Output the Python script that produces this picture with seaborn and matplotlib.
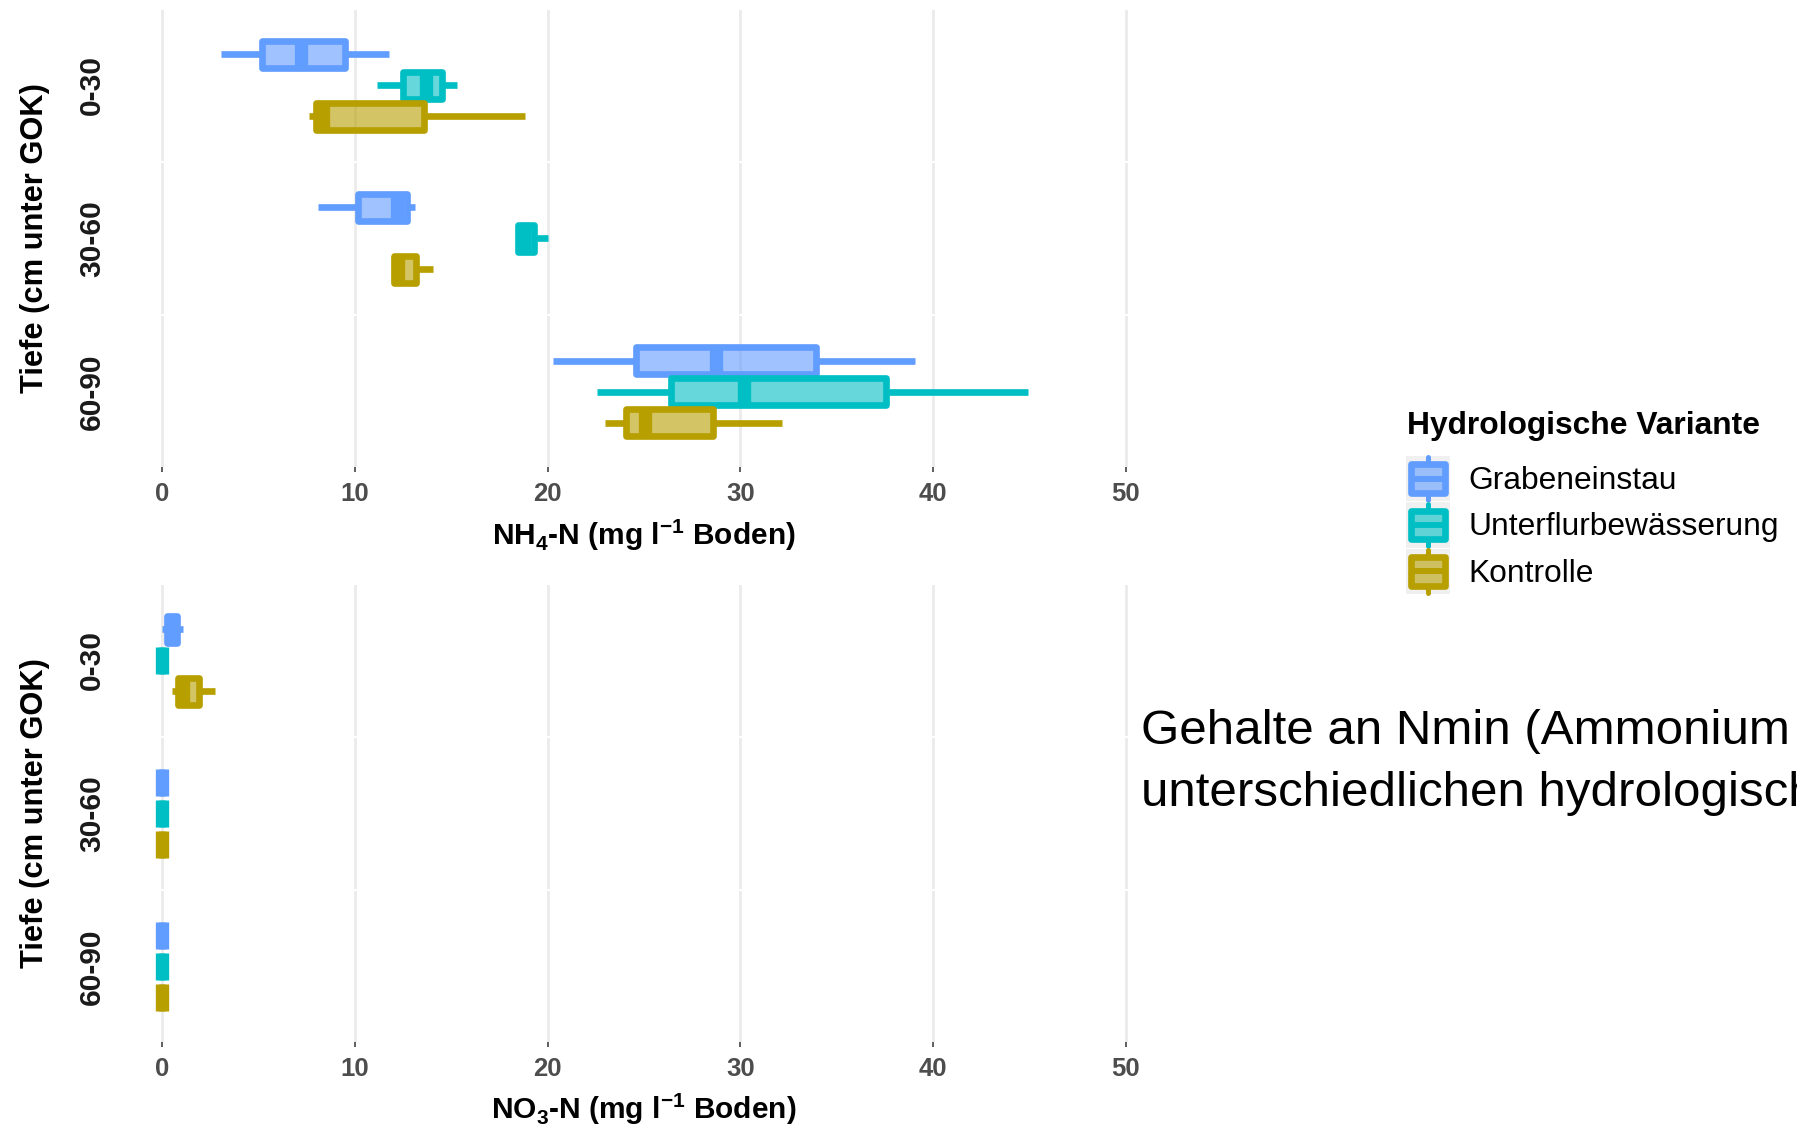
import numpy as np
import pandas as pd
import matplotlib
matplotlib.use("Agg")
import matplotlib.pyplot as plt
import seaborn as sns
from matplotlib.colors import to_rgba, to_rgb
from matplotlib.patches import Rectangle, Patch
from matplotlib.lines import Line2D
from matplotlib.legend_handler import HandlerBase

# ---------------------------------------------------------------- data
depths = ["0-30", "30-60", "60-90"]
variants = ["Grabeneinstau", "Unterflurbewässerung", "Kontrolle"]
colors = ["#619CFF", "#00BFC4", "#B79F00"]
x_ticks = [0, 10, 20, 30, 40, 50]

# five-number summaries per depth: minimum, Q1, median, Q3, maximum (mg l-1 Boden)
nh4_grabeneinstau = [[3.05, 5.16, 7.19, 9.49, 11.78],
                     [8.10, 10.14, 12.16, 12.68, 13.11],
                     [20.29, 24.57, 28.72, 33.90, 39.06]]
nh4_unterflur = [[11.16, 12.49, 13.70, 14.51, 15.29],
                 [18.44, 18.44, 18.77, 19.29, 20.03],
                 [22.54, 26.40, 30.19, 37.53, 44.94]]
nh4_kontrolle = [[7.59, 7.98, 8.36, 13.59, 18.84],
                 [12.04, 12.04, 12.25, 13.15, 14.07],
                 [22.97, 24.05, 25.06, 28.59, 32.14]]

no3_grabeneinstau = [[0.00, 0.26, 0.50, 0.75, 1.06],
                     [0.00, 0.00, 0.00, 0.00, 0.00],
                     [0.00, 0.00, 0.00, 0.00, 0.00]]
no3_unterflur = [[0.00, 0.00, 0.00, 0.00, 0.00],
                 [0.00, 0.00, 0.00, 0.00, 0.00],
                 [0.00, 0.00, 0.00, 0.00, 0.00]]
no3_kontrolle = [[0.49, 0.82, 1.09, 1.92, 2.74],
                 [0.00, 0.00, 0.00, 0.00, 0.00],
                 [0.00, 0.00, 0.00, 0.00, 0.00]]


def long_table(per_variant):
    rows = []
    for variant, summaries in zip(variants, per_variant):
        for depth, five in zip(depths, summaries):
            for v in five:
                rows.append((depth, variant, v))
    return pd.DataFrame(rows, columns=["Tiefe", "Variante", "Wert"])


nh4 = long_table([nh4_grabeneinstau, nh4_unterflur, nh4_kontrolle])
no3 = long_table([no3_grabeneinstau, no3_unterflur, no3_kontrolle])

# ---------------------------------------------------------------- style
sns.set_style("white")
plt.rcParams["font.family"] = ["Liberation Sans", "DejaVu Sans"]
plt.rcParams["text.color"] = "black"
plt.rcParams["mathtext.fontset"] = "custom"
plt.rcParams["mathtext.rm"] = "Liberation Sans"
plt.rcParams["mathtext.bf"] = "Liberation Sans:bold"

W, H = 1797, 1125
fig = plt.figure(figsize=(W / 100, H / 100), dpi=100)


def px_axes(left, top, right, bottom):
    return fig.add_axes([left / W, 1 - bottom / H, (right - left) / W, (bottom - top) / H])


palette = dict(zip(variants, colors))
BOX_LW = 4.8
MEDIAN_LW = 9.6

groups = [
    (nh4, [(9.5, 161.0), (162.7, 314.2), (315.9, 467.4)],
     r"NH$_\mathbf{4}$-N (mg l$^\mathbf{-1}$ Boden)", 545),
    (no3, [(584.5, 736.0), (737.7, 889.2), (890.9, 1042.4)],
     r"NO$_\mathbf{3}$-N (mg l$^\mathbf{-1}$ Boden)", 1119),
]

for df, facets, xlabel, label_base in groups:
    for i, depth in enumerate(depths):
        top, bottom = facets[i]
        ax = px_axes(114.1, top, 1174.0, bottom)
        for variant, color in zip(variants, colors):
            sub = df[(df["Tiefe"] == depth) & (df["Variante"] == variant)]
            n_p, n_l = len(ax.patches), len(ax.lines)
            sns.boxplot(data=sub, x="Wert", y="Tiefe", hue="Variante",
                        order=[depth], hue_order=variants, palette=palette,
                        dodge=True, width=0.614, gap=0.14, whis=(0, 100),
                        linewidth=BOX_LW, linecolor=color, showcaps=False,
                        legend=False, ax=ax)
            for p in ax.patches[n_p:]:
                p.set_facecolor(to_rgba(color, 0.6))
                p.set_edgecolor(color)
                p.set_joinstyle("round")
                p.set_linewidth(BOX_LW)
            for ln in ax.lines[n_l:]:
                xd, yd = np.asarray(ln.get_xdata()), np.asarray(ln.get_ydata())
                ln.set_color(color)
                if len(xd) == 2 and xd[0] == xd[1] and yd[0] != yd[1]:
                    ln.set_linewidth(MEDIAN_LW)
                    ln.set_solid_capstyle("butt")
        ax.set_xlim(-2.5, 52.5)
        ax.set_ylim(0.5, -0.5)
        ax.set_xticks(x_ticks)
        ax.set_yticks([])
        ax.set_xlabel("")
        ax.set_ylabel("")
        ax.grid(axis="x", color="#EBEBEB", linewidth=2.0)
        ax.grid(axis="y", visible=False)
        ax.set_axisbelow(True)
        for s in ax.spines.values():
            s.set_visible(False)
        if i == len(depths) - 1:
            ax.set_xticklabels([str(t) for t in x_ticks], fontweight="bold",
                               color="#4D4D4D", fontsize=18.5)
            ax.tick_params(axis="x", length=3.6, width=1.1, color="#333333",
                           pad=7, bottom=True)
        else:
            ax.tick_params(axis="x", length=0, labelbottom=False)
        # facet strip label on the left
        fig.text(92 / W, 1 - (top + bottom) / 2 / H, depth, rotation=90,
                 ha="center", va="center", fontsize=21.5, fontweight="bold",
                 color="#1A1A1A")
    mid = (facets[0][0] + facets[-1][1]) / 2
    fig.text(35 / W, 1 - mid / H, "Tiefe (cm unter GOK)", rotation=90,
             ha="center", va="center", fontsize=22.2, fontweight="bold",
             color="black")
    fig.text(644 / W, 1 - label_base / H, xlabel, ha="center", va="baseline",
             fontsize=21.5, fontweight="bold", color="black")


# ---------------------------------------------------------------- legend
KEY_BG = "#F0F0F0"


def blend(color, alpha, bg=KEY_BG):
    c, b = np.array(to_rgb(color)), np.array(to_rgb(bg))
    return tuple(alpha * c + (1 - alpha) * b)


class BoxKey(HandlerBase):
    def create_artists(self, legend, orig_handle, xdescent, ydescent,
                       width, height, fontsize, trans):
        dark = orig_handle.get_edgecolor()
        light = orig_handle.get_facecolor()
        x0, y0 = -xdescent, -ydescent
        cx = x0 + width / 2
        bg = Rectangle((x0, y0), width, height, facecolor=KEY_BG,
                       edgecolor="none", transform=trans)
        whisker = Line2D([cx, cx], [y0 + 0.03 * height, y0 + 0.97 * height],
                         color=dark, lw=3.6, solid_capstyle="round",
                         transform=trans)
        box = Rectangle((x0 + 0.115 * width, y0 + 0.185 * height),
                        0.77 * width, 0.63 * height, facecolor=light,
                        edgecolor=dark, lw=4.8, joinstyle="round",
                        transform=trans)
        median = Line2D([x0 + 0.115 * width, x0 + 0.885 * width],
                        [y0 + height / 2] * 2, color=dark, lw=4.3,
                        solid_capstyle="butt", transform=trans)
        return [bg, whisker, box, median]


handles = [Patch(facecolor=blend(c, 0.6), edgecolor=c) for c in colors]
leg = fig.legend(handles, variants, handler_map={h: BoxKey() for h in handles},
                 loc="upper left", bbox_to_anchor=(1406 / W, 1 - 456 / H),
                 frameon=False, borderpad=0, borderaxespad=0, fontsize=22.9,
                 handlelength=1.39, handleheight=1.82,
                 labelspacing=0.03, handletextpad=0.57)
for t in leg.get_texts():
    t.set_color("black")
fig.text(1407 / W, 1 - 426 / H, "Hydrologische Variante", ha="left",
         va="center", fontsize=22.9, fontweight="bold", color="black")

# ---------------------------------------------------------------- caption text
fig.text(1141 / W, 1 - 732 / H, "Gehalte an Nmin (Ammonium",
         ha="left", va="center", fontsize=35.5, color="black")
fig.text(1141 / W, 1 - 794 / H, "unterschiedlichen hydrologischen",
         ha="left", va="center", fontsize=35.5, color="black")

fig.savefig("out.png", dpi=100)
